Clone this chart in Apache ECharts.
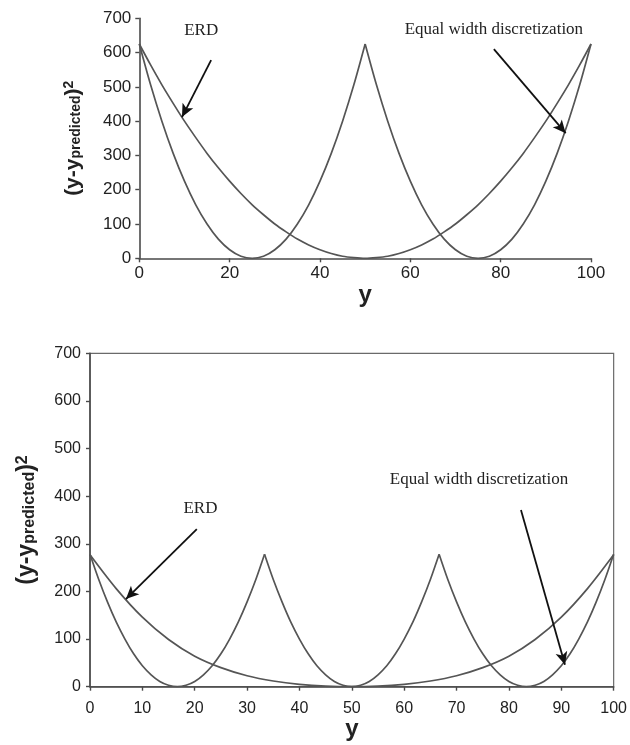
<!DOCTYPE html>
<html>
<head>
<meta charset="utf-8">
<script src="https://cdn.jsdelivr.net/npm/echarts@6/dist/echarts.min.js"></script>
<style>
html,body{margin:0;padding:0;background:#fff;}
#chart{width:630px;height:745px;}
</style>
</head>
<body>
<div id="chart"></div>
<script>
// ---------- Data ----------
// Top panel (2 equal-width bins)
const topX     = [0,2.5,5,7.5,10,12.5,15,17.5,20,22.5,25,27.5,30,32.5,35,37.5,40,42.5,45,47.5,50,
                  52.5,55,57.5,60,62.5,65,67.5,70,72.5,75,77.5,80,82.5,85,87.5,90,92.5,95,97.5,100];
const topERD   = [625,564,506,452,400,352,306,264,225,189,156,127,100,77,56,39,25,14,6,2,0,
                  2,6,14,25,39,56,77,100,127,156,189,225,264,306,352,400,452,506,564,625];
const topBin1X = [0,2.5,5,7.5,10,12.5,15,17.5,20,22.5,25,27.5,30,32.5,35,37.5,40,42.5,45,47.5,50];
const topBin1  = [625,506,400,306,225,156,100,56,25,6,0,6,25,56,100,156,225,306,400,506,625];
const topBin2X = [50,52.5,55,57.5,60,62.5,65,67.5,70,72.5,75,77.5,80,82.5,85,87.5,90,92.5,95,97.5,100];
const topBin2  = [625,506,400,306,225,156,100,56,25,6,0,6,25,56,100,156,225,306,400,506,625];

// Bottom panel (3 equal-width bins)
const botX     = [0,5,10,15,20,25,30,35,40,45,50,55,60,65,70,75,80,85,90,95,100];
const botERD   = [277,206,146,99,64,40,23,12,5,1.2,0,1.2,5,12,23,40,64,99,146,206,277];
const botBin1X = [0,1.67,3.33,5,6.67,8.33,10,11.67,13.33,15,16.67,18.33,20,21.67,23.33,25,26.67,28.33,30,31.67,33.33];
const botBin1  = [278,225,178,136,100,69,44,25,11,3,0,3,11,25,44,69,100,136,178,225,278];
const botBin2X = [33.33,35,36.67,38.33,40,41.67,43.33,45,46.67,48.33,50,51.67,53.33,55,56.67,58.33,60,61.67,63.33,65,66.67];
const botBin2  = [278,225,178,136,100,69,44,25,11,3,0,3,11,25,44,69,100,136,178,225,278];
const botBin3X = [66.67,68.33,70,71.67,73.33,75,76.67,78.33,80,81.67,83.33,85,86.67,88.33,90,91.67,93.33,95,96.67,98.33,100];
const botBin3  = [278,225,178,136,100,69,44,25,11,3,0,3,11,25,44,69,100,136,178,225,278];

// Annotations (data coordinates)
const annoLabels   = ['ERD','Equal width discretization'];
const topERDArrow  = [[15.9,578],[9.45,412]];
const topEWDArrow  = [[78.5,610],[94.4,365]];
const topERDText   = [13.7,663];
const topEWDText   = [78.5,666];
const botERDArrow  = [[20.4,331],[6.86,184]];
const botEWDArrow  = [[82.3,371],[90.7,46]];
const botERDText   = [21.1,375];
const botEWDText   = [74.3,434];

// ---------- Helpers ----------
const zip = (xs, ys) => xs.map((x,i)=>[x, ys[i]]);
const curveColor = '#555555';
const axisColor = '#4a4a4a';
const sans = '"Liberation Sans", Arial, sans-serif';
const serif = '"Liberation Serif", "Times New Roman", serif';

function curve(name, xi, yi, xs, ys, extra){
  return Object.assign({
    name, type:'line', xAxisIndex:xi, yAxisIndex:yi,
    data: zip(xs, ys), smooth: 0.3, showSymbol:false, symbol:'none',
    lineStyle:{color:curveColor, width:1.7}, silent:true, animation:false,
    emphasis:{disabled:true}
  }, extra||{});
}
function arrows(list){
  return {
    silent:true, animation:false, symbol:['none','arrow'], symbolSize:[9,13],
    lineStyle:{color:'#111', width:1.8, type:'solid'}, label:{show:false},
    emphasis:{disabled:true},
    data: list.map(a=>[{coord:a[0]},{coord:a[1]}])
  };
}
function texts(list){
  return {
    silent:true, animation:false, symbol:'circle', symbolSize:1,
    itemStyle:{color:'rgba(0,0,0,0)'},
    label:{show:true, position:'inside', color:'#222', fontFamily:serif, fontSize:17},
    data: list.map(t=>({coord:t[0], value:t[1], label:{formatter:t[1]}}))
  };
}
function yName(big, small){
  return {
    rich:{
      a:{fontFamily:sans, fontWeight:'bold', fontSize:big, color:'#222'},
      b:{fontFamily:sans, fontWeight:'bold', fontSize:small, color:'#222', verticalAlign:'bottom'},
      c:{fontFamily:sans, fontWeight:'bold', fontSize:small, color:'#222', verticalAlign:'top'}
    }
  };
}
const yNameText = '{a|(y-y}{b|predicted}{a|)}{c|2}';

const chart = echarts.init(document.getElementById('chart'), null, {renderer:'canvas'});
chart.setOption({
  animation:false,
  backgroundColor:'#fff',
  grid:[
    {left:139.3, top:18.3, width:451.7, height:240},
    {left:90, top:353.3, width:525, height:333.4, show:true, borderColor:'#6a6a6a', borderWidth:1.2, backgroundColor:'transparent'}
  ],
  xAxis:[
    {type:'value', gridIndex:0, min:0, max:100, interval:20,
     axisLine:{lineStyle:{color:axisColor, width:1.6}},
     axisTick:{show:true, inside:false, length:4, lineStyle:{color:axisColor, width:1.4}},
     axisLabel:{color:'#222', fontFamily:sans, fontSize:17, margin:7},
     splitLine:{show:false},
     name:'y', nameLocation:'middle', nameGap:18,
     nameTextStyle:{fontFamily:sans, fontWeight:'bold', fontSize:24, color:'#222'}},
    {type:'value', gridIndex:1, min:0, max:100, interval:10,
     axisLine:{lineStyle:{color:axisColor, width:1.6}},
     axisTick:{show:true, inside:false, length:4, lineStyle:{color:axisColor, width:1.4}},
     axisLabel:{color:'#222', fontFamily:sans, fontSize:16, margin:14},
     splitLine:{show:false},
     name:'y', nameLocation:'middle', nameGap:30,
     nameTextStyle:{fontFamily:sans, fontWeight:'bold', fontSize:24, color:'#222'}}
  ],
  yAxis:[
    {type:'value', gridIndex:0, min:0, max:700, interval:100,
     axisLine:{show:true, lineStyle:{color:axisColor, width:1.6}},
     axisTick:{show:true, inside:false, length:4, lineStyle:{color:axisColor, width:1.4}},
     axisLabel:{color:'#222', fontFamily:sans, fontSize:17, margin:8},
     splitLine:{show:false},
     name:yNameText, nameLocation:'middle', nameRotate:90, nameGap:56,
     nameTextStyle:yName(21,14)},
    {type:'value', gridIndex:1, min:0, max:700, interval:100,
     axisLine:{show:true, lineStyle:{color:axisColor, width:1.6}},
     axisTick:{show:true, inside:false, length:4, lineStyle:{color:axisColor, width:1.4}},
     axisLabel:{color:'#222', fontFamily:sans, fontSize:16, margin:9},
     splitLine:{show:false},
     name:yNameText, nameLocation:'middle', nameRotate:90, nameGap:52,
     nameTextStyle:yName(23,16)}
  ],
  series:[
    curve('ERD top', 0, 0, topX, topERD, {
      markLine: arrows([topERDArrow, topEWDArrow]),
      markPoint: texts([[topERDText, annoLabels[0]], [topEWDText, annoLabels[1]]])
    }),
    curve('EWD top bin1', 0, 0, topBin1X, topBin1),
    curve('EWD top bin2', 0, 0, topBin2X, topBin2),
    curve('ERD bottom', 1, 1, botX, botERD, {
      markLine: arrows([botERDArrow, botEWDArrow]),
      markPoint: texts([[botERDText, annoLabels[0]], [botEWDText, annoLabels[1]]])
    }),
    curve('EWD bottom bin1', 1, 1, botBin1X, botBin1),
    curve('EWD bottom bin2', 1, 1, botBin2X, botBin2),
    curve('EWD bottom bin3', 1, 1, botBin3X, botBin3)
  ]
});
</script>
</body>
</html>
